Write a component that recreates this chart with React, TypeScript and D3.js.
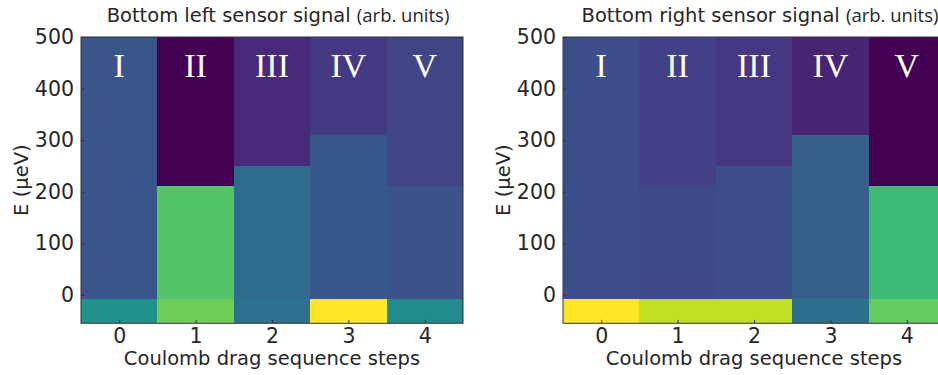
import React, { useEffect, useRef } from 'react';
import * as d3 from 'd3';

// sequence steps and the labels of the charge states
const steps = [0, 1, 2, 3, 4];
const numerals = ['I', 'II', 'III', 'IV', 'V'];
const yTicks = [0, 100, 200, 300, 400, 500];

// energy edges (µeV): bottom of plot, ground band top, top of plot
const eMin = -55;
const eGround = -8;
const eMax = 500;
// upper boundary of the middle band per step
const leftEdges = [212, 212, 250, 310, 212];
const rightEdges = [212, 212, 250, 310, 212];

// sensor signal (normalised, arb. units) per band
const leftGround = [0.5, 0.78, 0.37, 1.0, 0.48];
const leftMiddle = [0.26, 0.73, 0.35, 0.27, 0.25];
const leftUpper = [0.26, 0.0, 0.12, 0.17, 0.2];

const rightGround = [1.0, 0.91, 0.91, 0.36, 0.76];
const rightMiddle = [0.24, 0.22, 0.24, 0.3, 0.68];
const rightUpper = [0.24, 0.19, 0.16, 0.1, 0.0];

const panels = [
  { title: 'Bottom left sensor signal', edges: leftEdges, ground: leftGround, middle: leftMiddle, upper: leftUpper, x0: 81 },
  { title: 'Bottom right sensor signal', edges: rightEdges, ground: rightGround, middle: rightMiddle, upper: rightUpper, x0: 563 },
];

const App = () => {
  const svgRef = useRef(null);

  useEffect(() => {
    document.body.style.margin = '0';
    const svg = d3.select(svgRef.current);
    svg.selectAll('*').remove();

    const width = 382;
    const top = 37;
    const bottom = 323.3;
    const textColor = '#262626';
    const sans = '"DejaVu Sans", sans-serif';

    const y = d3.scaleLinear().domain([eMin, eMax]).range([bottom, top]);

    panels.forEach(p => {
      const x = d3.scaleLinear().domain([-0.5, 4.5]).range([p.x0, p.x0 + width]);
      const g = svg.append('g');

      const cells = [];
      steps.forEach((s, i) => {
        cells.push({ s, lo: eMin, hi: eGround, v: p.ground[i] });
        cells.push({ s, lo: eGround, hi: p.edges[i], v: p.middle[i] });
        cells.push({ s, lo: p.edges[i], hi: eMax, v: p.upper[i] });
      });

      g.selectAll('rect.cell')
        .data(cells)
        .join('rect')
        .attr('class', 'cell')
        .attr('x', d => x(d.s - 0.5))
        .attr('width', d => x(d.s + 0.5) - x(d.s - 0.5))
        .attr('y', d => y(d.hi))
        .attr('height', d => y(d.lo) - y(d.hi))
        .attr('shape-rendering', 'crispEdges')
        .attr('fill', d => d3.interpolateViridis(d.v));

      g.selectAll('text.num')
        .data(steps)
        .join('text')
        .attr('class', 'num')
        .attr('x', d => x(d))
        .attr('y', 77)
        .attr('text-anchor', 'middle')
        .style('font-family', '"Liberation Serif", serif')
        .style('font-size', '34px')
        .style('fill', 'white')
        .text((d, i) => numerals[i]);

      // frame
      g.append('rect')
        .attr('x', p.x0)
        .attr('y', top)
        .attr('width', width)
        .attr('height', bottom - top)
        .attr('fill', 'none')
        .attr('stroke', '#333')
        .attr('stroke-width', 1);

      // y axis, ticks pointing inward
      const yAxis = g.append('g')
        .attr('transform', `translate(${p.x0},0)`)
        .call(d3.axisLeft(y).tickValues(yTicks).tickFormat(d3.format('d')).tickSizeInner(-3.5).tickSizeOuter(0).tickPadding(7));
      yAxis.select('.domain').remove();
      yAxis.selectAll('line').attr('stroke', '#333');
      yAxis.selectAll('text')
        .style('font-family', sans)
        .style('font-size', '20.5px')
        .style('fill', textColor);

      const xAxis = g.append('g')
        .attr('transform', `translate(0,${bottom})`)
        .call(d3.axisBottom(x).tickValues(steps).tickFormat(d3.format('d')).tickSizeInner(-3.5).tickSizeOuter(0).tickPadding(5));
      xAxis.select('.domain').remove();
      xAxis.selectAll('line').attr('stroke', '#333');
      xAxis.selectAll('text')
        .style('font-family', sans)
        .style('font-size', '20.5px')
        .style('fill', textColor);

      const cx = p.x0 + width / 2;

      g.append('text')
        .attr('x', cx)
        .attr('y', 365)
        .attr('text-anchor', 'middle')
        .style('font-family', sans)
        .style('font-size', '19.5px')
        .style('fill', textColor)
        .text('Coulomb drag sequence steps');

      g.append('text')
        .attr('transform', `translate(${p.x0 - 60},${(top + bottom) / 2}) rotate(-90)`)
        .attr('text-anchor', 'middle')
        .attr('dominant-baseline', 'central')
        .style('font-family', sans)
        .style('font-size', '19.5px')
        .style('fill', textColor)
        .text('E (µeV)');

      const title = g.append('text')
        .attr('x', cx + 6)
        .attr('y', 22)
        .attr('text-anchor', 'middle')
        .style('fill', textColor);
      title.append('tspan')
        .style('font-family', sans)
        .style('font-size', '19.5px')
        .text(p.title + ' ');
      title.append('tspan')
        .style('font-family', '"Open Sans", sans-serif')
        .style('font-size', '18.5px')
        .text('(arb. units)');
    });
  }, []);

  return <svg ref={svgRef} width={938} height={375} style={{ display: 'block' }}></svg>;
};

export default App;
